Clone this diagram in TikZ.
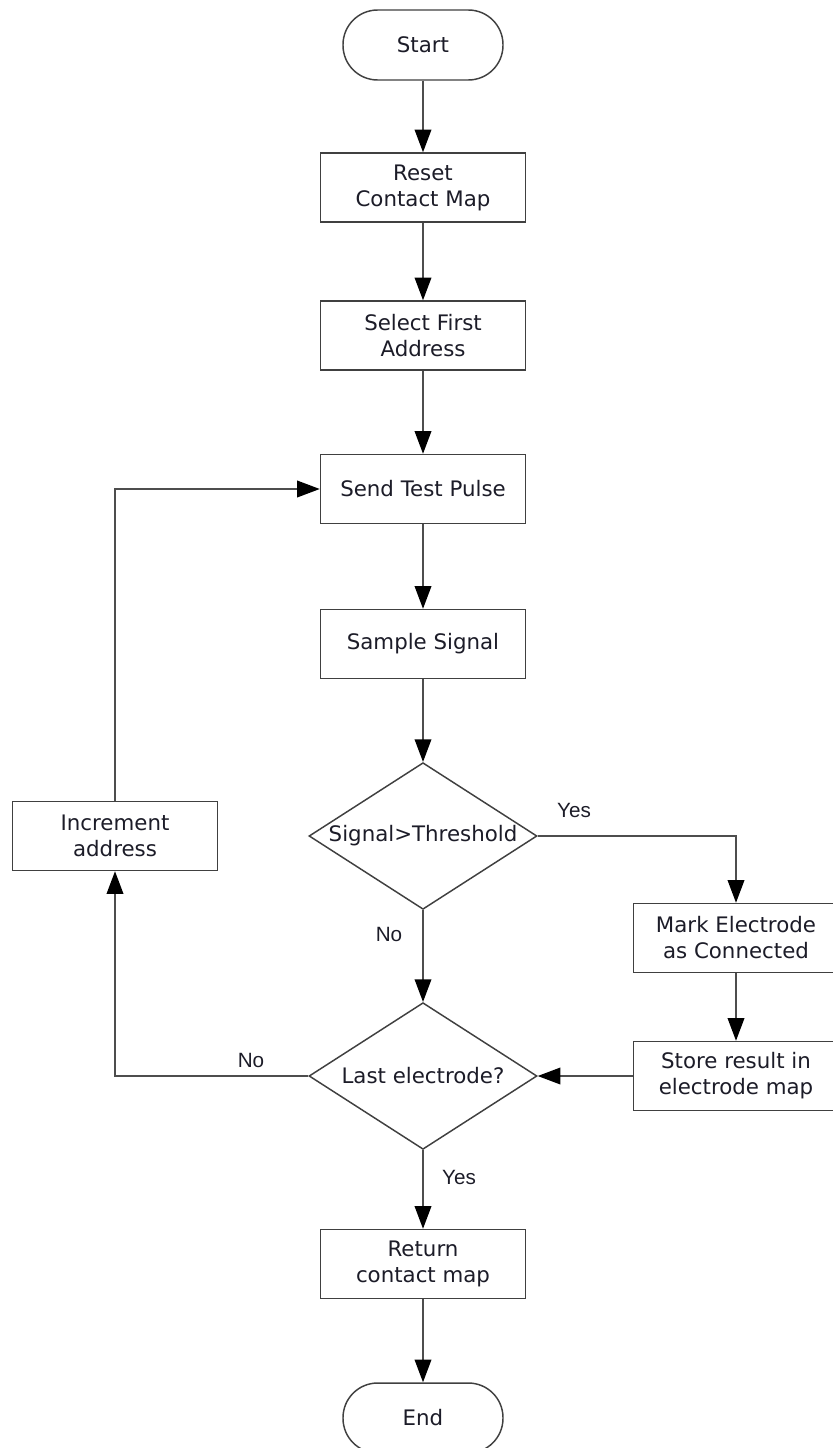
\documentclass[tikz,border=0pt]{standalone}
\usepackage{fontspec}
\setmainfont{DejaVu Sans}
\newfontfamily\labelfont{Liberation Sans}
\usetikzlibrary{arrows.meta,shapes.geometric}
\definecolor{linegray}{HTML}{4D4D4D}
\definecolor{boxgray}{HTML}{404040}
\definecolor{textcol}{HTML}{1C1C28}
\begin{document}
\begin{tikzpicture}[x=0.75pt,y=-0.75pt,
  line/.style={draw=linegray, line width=1.1pt},
  flow/.style={line, -{Triangle[length=17pt,width=12.5pt,color=black]}},
  procbox/.style={draw=boxgray, line width=1.1pt, fill=white, text=textcol,
    minimum width=153.75pt, minimum height=51.75pt, align=center, inner sep=0pt,
    font=\fontsize{16}{19.5}\selectfont},
  terminal/.style={procbox, rounded corners=26pt, minimum width=120pt, minimum height=52.5pt},
  decision/.style={diamond, draw=boxgray, line width=1.1pt, fill=white, text=textcol,
    minimum width=171pt, minimum height=110pt, inner sep=0pt,
    font=\fontsize{16}{19.5}\selectfont},
  lbl/.style={text=textcol, font=\labelfont\fontsize{15.5}{18}\selectfont, inner sep=0pt}
]
\useasboundingbox (0,0) rectangle (832,1448);

% main column
\node[terminal] (start) at (423,45) {Start};
\node[procbox] (reset) at (423,187.5) {Reset\\Contact Map};
\node[procbox] (select) at (423,335.5) {Select First\\Address};
\node[procbox] (send) at (423,489) {Send Test Pulse};
\node[procbox] (sample) at (423,644) {Sample Signal};
\node[decision] (thresh) at (423,836) {\makebox[0pt][c]{Signal>Threshold}};
\node[decision] (last) at (423,1076) {\makebox[0pt][c]{Last electrode?}};
\node[procbox] (ret) at (423,1264) {Return\\contact map};
\node[terminal] (end) at (423,1418) {End};

% side boxes
\node[procbox] (mark) at (736,938) {Mark Electrode\\as Connected};
\node[procbox] (store) at (736,1076) {Store result in\\electrode map};
\node[procbox] (incr) at (115,836) {Increment\\address};

% bend points
\coordinate (yesbend) at (736,836);
\coordinate (nobend) at (115,1076);
\coordinate (loopbend) at (115,489);

% connectors
\draw[flow] (start) -- (reset);
\draw[flow] (reset) -- (select);
\draw[flow] (select) -- (send);
\draw[flow] (send) -- (sample);
\draw[flow] (sample) -- (thresh);
\draw[flow] (thresh.east) -- (yesbend) -- (mark.north);
\draw[flow] (thresh.south) -- (last.north);
\draw[flow] (mark) -- (store);
\draw[flow] (store.west) -- (last.east);
\draw[flow] (last.west) -- (nobend) -- (incr.south);
\draw[flow] (incr.north) -- (loopbend) -- (send.west);
\draw[flow] (last.south) -- (ret.north);
\draw[flow] (ret) -- (end);

% branch labels
\node[lbl] (yes1) at (574,810) {Yes};
\node[lbl] (no1) at (389,934) {No};
\node[lbl] (no2) at (251,1060) {No};
\node[lbl] (yes2) at (459,1177) {Yes};
\end{tikzpicture}
\end{document}
